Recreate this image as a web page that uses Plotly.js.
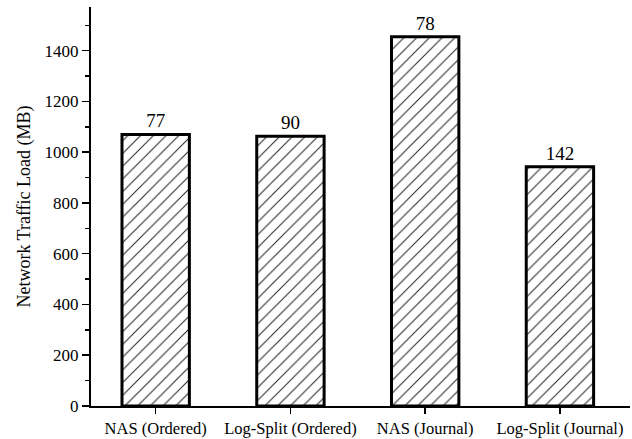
<!DOCTYPE html>
<html><head><meta charset="utf-8">
<script src="https://cdn.plot.ly/plotly-3.0.1.min.js"></script>
<style>html,body{margin:0;padding:0;background:#fff}</style>
</head><body>
<div id="chart" style="width:632px;height:439px"></div>
<script>
const categories = ["NAS (Ordered)", "Log-Split (Ordered)", "NAS (Journal)", "Log-Split (Journal)"];
const trafficMB = [1070, 1063, 1455, 943];
const barLabels = ["77", "90", "78", "142"];

const FONT = 'Liberation Serif, Times New Roman, serif';

const trace = {
  type: 'bar',
  x: [0, 1, 2, 3],
  y: trafficMB,
  width: 0.5,
  text: barLabels,
  textposition: 'outside',
  cliponaxis: false,
  textfont: {family: FONT, size: 19, color: '#000'},
  marker: {
    color: '#fff',
    line: {color: '#000', width: 3},
    pattern: {shape: '/', fgcolor: '#222', bgcolor: '#fff', size: 9, solidity: 0.11}
  },
  hoverinfo: 'none'
};

const layout = {
  width: 632, height: 439,
  margin: {l: 91, r: 2, t: 7, b: 33},
  paper_bgcolor: '#fff', plot_bgcolor: '#fff',
  showlegend: false,
  font: {family: FONT, color: '#000'},
  xaxis: {
    range: [-0.48, 3.52],
    tickmode: 'array', tickvals: [0, 1, 2, 3], ticktext: categories,
    ticks: 'outside', ticklen: 6, tickwidth: 1.5, tickcolor: '#000',
    showline: true, linecolor: '#000', linewidth: 2,
    showgrid: false, zeroline: false,
    tickfont: {family: FONT, size: 16.5, color: '#000'}
  },
  yaxis: {
    range: [0, 1572],
    tickmode: 'linear', tick0: 0, dtick: 200,
    ticks: 'outside', ticklen: 7, tickwidth: 1.5, tickcolor: '#000',
    minor: {dtick: 100, ticks: 'outside', ticklen: 4, tickwidth: 1.5, tickcolor: '#000'},
    showline: true, linecolor: '#000', linewidth: 2,
    showgrid: false, zeroline: false,
    tickfont: {family: FONT, size: 17, color: '#000'},
    title: {text: 'Network Traffic Load (MB)', font: {family: FONT, size: 18, color: '#000'}, standoff: 9}
  }
};

Plotly.newPlot('chart', [trace], layout, {displayModeBar: false, staticPlot: true});
</script>
</body></html>
